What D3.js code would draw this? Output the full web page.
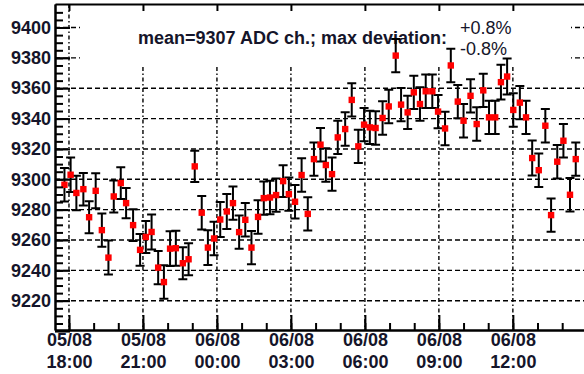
<!DOCTYPE html>
<html><head><meta charset="utf-8">
<script src="https://cdn.jsdelivr.net/npm/d3@7"></script>
<style>body{margin:0;background:#fff}svg{display:block}</style>
</head><body><svg id="c" width="584" height="374"></svg>
<script>
// ---- data ----
const baseTime = new Date(2008, 7, 5, 18, 0); // 05/08 18:00
const minutesFromBase = [-11,4,18,35,49,65,80,96,109,126,139,156,173,187,201,217,231,246,260,277,291,306,323,338,353,368,384,399,414,429,444,460,474,489,504,521,535,550,566,581,596,612,625,640,654,672,688,704,718,732,746,763,778,795,808,824,839,854,868,884,898,915,929,946,960,977,992,1008,1022,1037,1051,1066,1081,1097,1112,1127,1143,1159,1173,1188,1203,1219,1233];
const adcValues = [9296.4,9303,9291,9293.5,9275,9292.4,9266.5,9248.4,9288.7,9297.5,9284.3,9269.8,9253.5,9262,9265.3,9241.8,9232.3,9254.3,9254.6,9244.7,9247.3,9308.5,9278,9255,9261,9273.5,9278.8,9284.3,9265.2,9273.3,9255,9275.2,9287.6,9288,9289.6,9298.8,9290.2,9285.2,9302.8,9277.2,9313.3,9322.8,9309.4,9303.4,9327.6,9333.1,9352.3,9321.7,9336,9334.2,9333.8,9340.4,9348,9381.5,9349.2,9344.1,9357.3,9349.6,9358,9358,9344.6,9333.5,9375,9351.2,9338.6,9355,9336.4,9358.6,9340.8,9340.8,9364,9367.7,9345.7,9350.5,9340.8,9314,9306,9335.3,9276.4,9311.6,9325.4,9289.8,9313.3];
const adcErrors = [11,11.4,11.4,10.7,10.5,11.5,11,11.2,10.5,10.5,10,10.5,10.5,10.5,11.5,11,11,11.5,11.5,10.5,10.5,10.3,11,11.5,11,11.5,11.5,11,11,11,11,11,11,11,11,10.5,11,11,11,11,11,11,11,11,11,11,11,11,11,11,11,11,11,11,11,11,11,11,11,11,11,11,11,11,11,11,11,11,11,11,11.5,11.9,11,11,11,11.5,11,11,11,11,11,11,11];
const yTickValues = [9220,9240,9260,9280,9300,9320,9340,9360,9380,9400];
const xTickHours = [0,3,6,9,12,15,18];
const xTickLabels = [["05/08","18:00"],["05/08","21:00"],["06/08","00:00"],["06/08","03:00"],["06/08","06:00"],["06/08","09:00"],["06/08","12:00"]];
const meanText = "mean=9307 ADC ch.; max deviation:";
const devLabels = ["+0.8%","-0.8%"];

// ---- layout ----
const L = 55, T = 4, B = 330, R = 600;
const font = "'Liberation Sans', Arial, Helvetica, sans-serif";
const txtCol = "#15152a";
const tm = m => new Date(+baseTime + m * 60000);

const x = d3.scaleTime().domain([tm(-34), tm(1292)]).range([L, R]);
const y = d3.scaleLinear().domain([9200.7, 9415.5]).range([B, T]);

const svg = d3.select("#c");
const data = minutesFromBase.map((m, i) => ({t: tm(m), v: adcValues[i], e: adcErrors[i]}));
const majorTimes = xTickHours.map(h => tm(h * 60));

// grid
const grid = svg.append("g").attr("stroke", "#000").attr("stroke-width", 1.4).attr("fill", "none");
grid.selectAll("line.v").data(majorTimes).join("line").attr("class", "v")
  .attr("x1", d => x(d)).attr("x2", d => x(d)).attr("y1", T).attr("y2", B)
  .attr("stroke-dasharray", "4,2.5,1.5,2.5");
grid.selectAll("line.h").data(yTickValues).join("line").attr("class", "h")
  .attr("x1", L).attr("x2", R).attr("y1", d => y(d)).attr("y2", d => y(d))
  .attr("stroke-dasharray", "5,3");

// white text box
svg.append("rect").attr("x", 80).attr("y", T + 1).attr("width", 491).attr("height", 60).attr("fill", "#fff");

svg.append("text").attr("x", 138).attr("y", 44).attr("font-family", font).attr("font-size", 18)
  .attr("font-weight", "bold").attr("fill", txtCol).text(meanText);
svg.selectAll("text.dev").data(devLabels).join("text").attr("class", "dev")
  .attr("x", 460).attr("y", (d, i) => 34 + i * 21).attr("font-family", font).attr("font-size", 18)
  .attr("fill", txtCol).text(d => d);

// error bars
const eb = svg.append("g").attr("stroke", "#000").attr("stroke-width", 2).attr("fill", "none");
eb.selectAll("path").data(data).join("path").attr("d", d => {
  const xx = x(d.t), y1 = y(d.v + d.e), y2 = y(d.v - d.e), c = 4.5;
  return `M${xx},${y1}V${y2}M${xx - c},${y1}H${xx + c}M${xx - c},${y2}H${xx + c}`;
});
// markers
svg.append("g").selectAll("rect").data(data).join("rect")
  .attr("x", d => x(d.t) - 3.2).attr("y", d => y(d.v) - 3.2).attr("width", 6.4).attr("height", 6.4)
  .attr("fill", "#ff0000");

// axes
function styleAxis(g) {
  g.selectAll("line").attr("stroke", "#000").attr("stroke-width", 2);
  g.select(".domain").attr("stroke", "#000").attr("stroke-width", 2);
}
// left
const minorY = d3.range(9205, 9415, 5);
svg.append("g").attr("transform", `translate(${L},0)`)
  .call(d3.axisLeft(y).tickValues(minorY).tickSize(-8).tickSizeOuter(0).tickFormat(""))
  .call(styleAxis);
const ly = svg.append("g").attr("transform", `translate(${L},0)`)
  .call(d3.axisLeft(y).tickValues([9200].concat(yTickValues)).tickSize(-15).tickSizeOuter(0).tickPadding(4)
    .tickFormat(d => d === 9200 ? "" : d3.format("d")(d)))
  .call(styleAxis);
ly.selectAll("text").attr("font-family", font).attr("font-size", 18).attr("font-weight", "bold").attr("fill", txtCol);

// bottom
const minorX = d3.timeHour.range(x.domain()[0], x.domain()[1]);
svg.append("g").attr("transform", `translate(0,${B})`)
  .call(d3.axisBottom(x).tickValues(minorX).tickSize(-7).tickSizeOuter(0).tickFormat(""))
  .call(styleAxis);
const bx = svg.append("g").attr("transform", `translate(0,${B})`)
  .call(d3.axisBottom(x).tickValues(majorTimes).tickSize(-15).tickSizeOuter(0).tickFormat(""))
  .call(styleAxis);
bx.selectAll(".tick").each(function(d, i) {
  const t = d3.select(this).append("text").attr("font-family", font).attr("font-size", 18)
    .attr("font-weight", "bold").attr("fill", txtCol).attr("text-anchor", "middle");
  t.append("tspan").attr("x", 0).attr("y", 16).text(xTickLabels[i][0]);
  t.append("tspan").attr("x", 0).attr("y", 38).text(xTickLabels[i][1]);
});
// top
svg.append("g").attr("transform", `translate(0,${T})`)
  .call(d3.axisTop(x).tickValues(majorTimes).tickSize(-7).tickSizeOuter(0).tickFormat(""))
  .call(styleAxis);
</script></body></html>
